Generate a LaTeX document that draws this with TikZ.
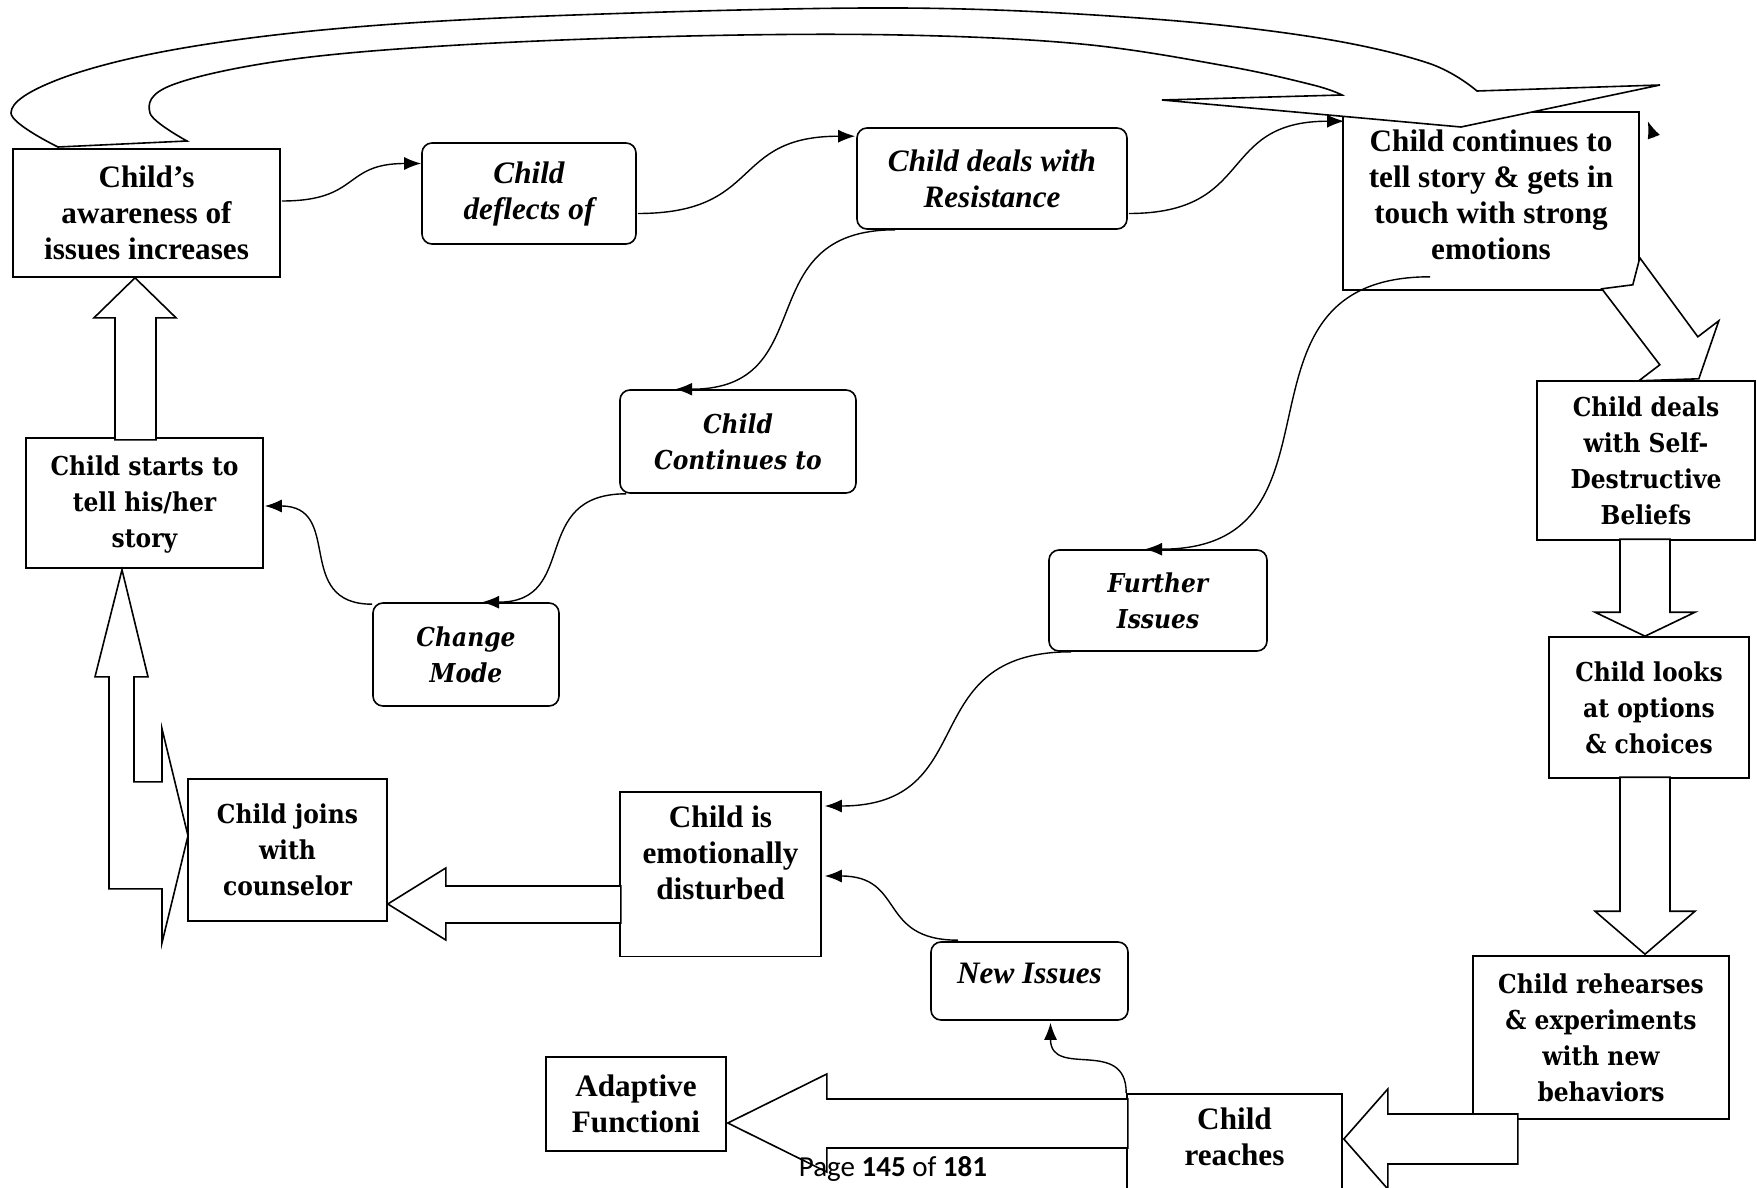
\documentclass[tikz,border=0pt]{standalone}
\usepackage{fontspec}
\setmainfont{Liberation Serif}
\newfontfamily\widefont[FakeStretch=0.9]{DejaVu Serif}
\newfontfamily\footfont{Carlito}
\usetikzlibrary{calc, arrows.meta}

\newcommand{\tnrbold}{\bfseries\fontsize{15.6}{18}\selectfont}
\newcommand{\widebold}{\widefont\bfseries\fontsize{13}{18}\selectfont}

\begin{document}
\begin{tikzpicture}[x=0.5pt, y=-0.5pt,
  sqbox/.style={draw, line width=0.8pt, fill=white, align=center, inner sep=2pt, font=\tnrbold},
  rbox/.style={sqbox, rounded corners=5pt, font=\tnrbold\itshape},
  widebox/.style={sqbox, font=\widebold},
  rwidebox/.style={sqbox, rounded corners=5pt, font=\widebold\itshape},
  conn/.style={line width=0.7pt, looseness=1.4, -{Latex[length=8.5pt,width=6.5pt]}},
  fat/.style={draw, fill=white, line width=0.8pt, line join=miter}]
\useasboundingbox (0,0) rectangle (1757,1188);

% boxes
\node[sqbox, minimum width=133.5pt, minimum height=64pt] (aware) at (146.5,213) {Child’s\\awareness of\\issues increases};
\node[rbox, minimum width=107pt, minimum height=50.5pt] (deflect) at (529,193.5) {Child\\deflects of};
\node[rbox, minimum width=135pt, minimum height=50.5pt] (resist) at (992,178.5) {Child deals with\\Resistance};
\node[sqbox, minimum width=148pt, minimum height=89pt, text depth=6pt] (contin) at (1491,201) {Child continues to\\tell story \& gets in\\touch with strong\\emotions};
\node[widebox, minimum width=109pt, minimum height=79.5pt] (selfdest) at (1646,460.5) {Child deals\\with Self-\\Destructive\\Beliefs};
\node[widebox, minimum width=100pt, minimum height=70.5pt] (options) at (1649,707.5) {Child looks\\at options\\\& choices};
\node[widebox, minimum width=128pt, minimum height=81.5pt] (rehearse) at (1601,1037.5) {Child rehearses\\\& experiments\\with new\\behaviors};
\node[sqbox, anchor=north, inner ysep=7pt, minimum width=107.5pt, text depth=24pt] (reaches) at (1234.5,1093) {Child\\reaches};
\node[sqbox, minimum width=90pt, minimum height=47pt] (adaptive) at (636,1104) {Adaptive\\Functioni};
\node[rbox, minimum width=98.5pt, minimum height=39pt, text depth=8pt] (newiss) at (1029.5,981) {New Issues};
\node[sqbox, anchor=north, inner ysep=7pt, minimum width=100.5pt, text depth=21.5pt] (disturbed) at (720.5,791) {Child is\\emotionally\\disturbed};
\node[widebox, minimum width=99.5pt, minimum height=71pt] (joins) at (287.5,850) {Child joins\\with\\counselor};
\node[widebox, minimum width=118.5pt, minimum height=65pt, text depth=1pt] (starts) at (144.5,503) {Child starts to\\tell his/her\\story};
\node[rwidebox, minimum width=93pt, minimum height=51.5pt] (change) at (466,654.5) {Change\\Mode};
\node[rwidebox, minimum width=118pt, minimum height=51.5pt] (goeson) at (738,441.5) {Child\\Continues to};
\node[rwidebox, minimum width=109pt, minimum height=50.5pt] (further) at (1158,600.5) {Further\\Issues};

% block arrows
\draw[fat] ($(aware.south)+(-11.5,0)$) -- ++(41,40) -- ++(-20,0) -- ++(0,122) -- ++(-41,0) -- ++(0,-122) -- ++(-21,0) -- cycle;
\draw[fat] ($(starts.south)+(-22.5,1)$) -- ++(26,107) -- ++(-14,0) -- ++(0,105) -- ++(28,0) -- ++(0,-53) -- ++(26,107) -- ++(-26,107) -- ++(0,-54) -- ++(-53,0) -- ++(0,-212) -- ++(-14,0) -- cycle;
\draw[fat] ($(joins.east)+(0,54)$) -- ++(58,-36) -- ++(0,18) -- ++(175,0) -- ++(0,37) -- ++(-175,0) -- ++(0,17) -- cycle;
\draw[fat] ($(adaptive.east)+(1,19)$) -- ++(99,-49) -- ++(0,25) -- ++(301,0) -- ++(0,49) -- ++(-301,0) -- ++(0,24) -- cycle;
\draw[fat] ($(reaches.north east)+(1,46)$) -- ++(44,-50) -- ++(0,25) -- ++(130,0) -- ++(0,50) -- ++(-130,0) -- ++(0,25) -- cycle;
\draw[fat] ($(options.north)+(-4,0)$) -- ++(50,-24) -- ++(-25,0) -- ++(0,-73) -- ++(-50,0) -- ++(0,73) -- ++(-25,0) -- cycle;
\draw[fat] ($(rehearse.north)+(44,-1)$) -- ++(50,-43) -- ++(-25,0) -- ++(0,-134) -- ++(-50,0) -- ++(0,134) -- ++(-25,0) -- cycle;
\draw[fat] ($(contin.south east)+(-38,-2)$) -- ++(31,-4) -- ++(7,-27) -- ++(58,79) -- ++(21,-16) -- ++(-20,58) -- ++(-60,2) -- ++(21,-16) -- cycle;
% the big loop back over the top
\draw[fat] plot[smooth, tension=0.6] coordinates {(58,147) (11,113) (57,80) (172,50) (344,28) (574,15) (900,8) (1139,18) (1313,37) (1428,63) (1477,91)}
  -- (1660,85) -- (1461,127) -- (1162,100)
  -- plot[smooth, tension=0.6] coordinates {(1342,95) (1313,85) (1226,66) (1081,44) (900,35) (689,36) (459,45) (287,60) (172,85) (150,113) (187,141)}
  -- cycle;

% curved connectors
\draw[conn] ($(aware.east)+(1,-12)$) to[out=0,in=180] ($(deflect.west)+(0,-30)$);
\draw[conn] ($(deflect.east)+(1,20)$) to[out=0,in=180] ($(resist.north west)+(-1,9)$);
\draw[conn] ($(resist.east)+(1,35)$) to[out=0,in=180] ($(contin.north west)+(2,10)$);
\draw[conn] ($(resist.south west)+(39,0)$) to[out=180,in=0] ($(goeson.north west)+(56,0)$);
\draw[conn] ($(goeson.south west)+(7,0)$) to[out=180,in=0] ($(change.north)+(16,0)$);
\draw[conn] ($(change.north west)+(0,2)$) to[out=180,in=0] ($(starts.east)+(1,3)$);
\draw[conn] ($(contin.south)+(-61,-14)$) to[out=180,in=0] ($(further.north)+(-13,0)$);
\draw[conn] ($(further.south west)+(23,0)$) to[out=180,in=0] ($(disturbed.north east)+(3,15)$);
\draw[conn] ($(newiss.north west)+(28,-1)$) to[out=180,in=0] ($(disturbed.north east)+(3,85)$);
\draw[conn] (reaches.north west) to[out=90,in=-90] ($(newiss.south)+(21,2)$);
\coordinate (stray) at ($(contin.north east)+(14,26)$);
\draw[conn] (stray) -- ($(contin.north east)+(8,10)$);

\node[font=\footfont\fontsize{14.5}{16}\selectfont] (pagenum) at (893,1169) {Page \textbf{145} of \textbf{181}};
\end{tikzpicture}
\end{document}
